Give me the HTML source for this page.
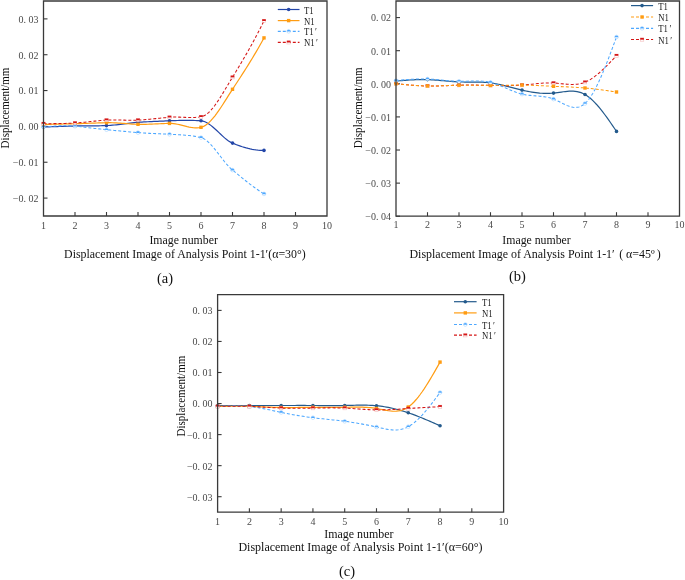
<!DOCTYPE html>
<html><head><meta charset="utf-8"><style>
html,body{margin:0;padding:0;background:#fff;}
svg{display:block;}
text{font-family:"Liberation Serif",serif;}
</style></head><body>
<svg style="will-change:transform" width="685" height="580" viewBox="0 0 685 580">
<rect width="685" height="580" fill="#fff"/>
<line x1="75.00" y1="216" x2="75.00" y2="212" stroke="#3a3a3a" stroke-width="1.1"/>
<line x1="106.50" y1="216" x2="106.50" y2="212" stroke="#3a3a3a" stroke-width="1.1"/>
<line x1="138.00" y1="216" x2="138.00" y2="212" stroke="#3a3a3a" stroke-width="1.1"/>
<line x1="169.50" y1="216" x2="169.50" y2="212" stroke="#3a3a3a" stroke-width="1.1"/>
<line x1="201.00" y1="216" x2="201.00" y2="212" stroke="#3a3a3a" stroke-width="1.1"/>
<line x1="232.50" y1="216" x2="232.50" y2="212" stroke="#3a3a3a" stroke-width="1.1"/>
<line x1="264.00" y1="216" x2="264.00" y2="212" stroke="#3a3a3a" stroke-width="1.1"/>
<line x1="295.50" y1="216" x2="295.50" y2="212" stroke="#3a3a3a" stroke-width="1.1"/>
<line x1="43.5" y1="198.08" x2="47.5" y2="198.08" stroke="#3a3a3a" stroke-width="1.1"/>
<line x1="43.5" y1="162.24" x2="47.5" y2="162.24" stroke="#3a3a3a" stroke-width="1.1"/>
<line x1="43.5" y1="126.40" x2="47.5" y2="126.40" stroke="#3a3a3a" stroke-width="1.1"/>
<line x1="43.5" y1="90.56" x2="47.5" y2="90.56" stroke="#3a3a3a" stroke-width="1.1"/>
<line x1="43.5" y1="54.72" x2="47.5" y2="54.72" stroke="#3a3a3a" stroke-width="1.1"/>
<line x1="43.5" y1="18.88" x2="47.5" y2="18.88" stroke="#3a3a3a" stroke-width="1.1"/>
<path d="M43.50,127.10 L45.47,127.01 L47.44,126.93 L49.41,126.85 L51.38,126.77 L53.34,126.70 L55.31,126.62 L57.28,126.56 L59.25,126.49 L61.22,126.42 L63.19,126.36 L65.16,126.30 L67.12,126.24 L69.09,126.18 L71.06,126.12 L73.03,126.06 L75.00,126.00 L76.97,125.95 L78.94,125.91 L80.91,125.88 L82.88,125.86 L84.84,125.85 L86.81,125.84 L88.78,125.83 L90.75,125.83 L92.72,125.83 L94.69,125.82 L96.66,125.81 L98.62,125.79 L100.59,125.76 L102.56,125.72 L104.53,125.67 L106.50,125.60 L108.47,125.50 L110.44,125.37 L112.41,125.21 L114.38,125.01 L116.34,124.80 L118.31,124.56 L120.28,124.32 L122.25,124.06 L124.22,123.80 L126.19,123.55 L128.16,123.30 L130.12,123.06 L132.09,122.83 L134.06,122.63 L136.03,122.45 L138.00,122.30 L139.97,122.17 L141.94,122.05 L143.91,121.94 L145.88,121.83 L147.84,121.73 L149.81,121.64 L151.78,121.55 L153.75,121.46 L155.72,121.37 L157.69,121.29 L159.66,121.21 L161.62,121.13 L163.59,121.05 L165.56,120.97 L167.53,120.89 L169.50,120.80 L171.47,120.72 L173.44,120.64 L175.41,120.57 L177.38,120.51 L179.34,120.46 L181.31,120.42 L183.28,120.39 L185.25,120.37 L187.22,120.37 L189.19,120.38 L191.16,120.41 L193.12,120.45 L195.09,120.51 L197.06,120.59 L199.03,120.68 L201.00,120.80 L202.97,121.11 L204.94,121.77 L206.91,122.73 L208.88,123.94 L210.84,125.38 L212.81,126.98 L214.78,128.72 L216.75,130.54 L218.72,132.40 L220.69,134.27 L222.66,136.09 L224.62,137.84 L226.59,139.45 L228.56,140.89 L230.53,142.12 L232.50,143.10 L234.47,143.92 L236.44,144.69 L238.41,145.43 L240.38,146.12 L242.34,146.78 L244.31,147.38 L246.28,147.94 L248.25,148.44 L250.22,148.89 L252.19,149.29 L254.16,149.63 L256.12,149.91 L258.09,150.13 L260.06,150.29 L262.03,150.38 L264.00,150.40" fill="none" stroke="#2346a8" stroke-width="1.2"/>
<path d="M43.50,124.40 L45.47,124.36 L47.44,124.33 L49.41,124.29 L51.38,124.25 L53.34,124.21 L55.31,124.16 L57.28,124.12 L59.25,124.07 L61.22,124.03 L63.19,123.98 L65.16,123.93 L67.12,123.89 L69.09,123.84 L71.06,123.79 L73.03,123.75 L75.00,123.70 L76.97,123.65 L78.94,123.60 L80.91,123.54 L82.88,123.47 L84.84,123.41 L86.81,123.34 L88.78,123.27 L90.75,123.20 L92.72,123.13 L94.69,123.06 L96.66,122.99 L98.62,122.92 L100.59,122.86 L102.56,122.80 L104.53,122.75 L106.50,122.70 L108.47,122.68 L110.44,122.69 L112.41,122.74 L114.38,122.81 L116.34,122.92 L118.31,123.04 L120.28,123.17 L122.25,123.32 L124.22,123.47 L126.19,123.62 L128.16,123.77 L130.12,123.91 L132.09,124.04 L134.06,124.15 L136.03,124.24 L138.00,124.30 L139.97,124.33 L141.94,124.34 L143.91,124.32 L145.88,124.29 L147.84,124.24 L149.81,124.18 L151.78,124.10 L153.75,124.02 L155.72,123.93 L157.69,123.84 L159.66,123.75 L161.62,123.66 L163.59,123.58 L165.56,123.51 L167.53,123.45 L169.50,123.40 L171.47,123.44 L173.44,123.61 L175.41,123.89 L177.38,124.26 L179.34,124.69 L181.31,125.17 L183.28,125.67 L185.25,126.17 L187.22,126.64 L189.19,127.06 L191.16,127.41 L193.12,127.67 L195.09,127.81 L197.06,127.81 L199.03,127.65 L201.00,127.30 L202.97,126.66 L204.94,125.64 L206.91,124.28 L208.88,122.61 L210.84,120.66 L212.81,118.46 L214.78,116.04 L216.75,113.43 L218.72,110.65 L220.69,107.75 L222.66,104.75 L224.62,101.67 L226.59,98.56 L228.56,95.44 L230.53,92.35 L232.50,89.30 L234.47,86.29 L236.44,83.28 L238.41,80.26 L240.38,77.22 L242.34,74.17 L244.31,71.09 L246.28,67.98 L248.25,64.84 L250.22,61.66 L252.19,58.44 L254.16,55.17 L256.12,51.84 L258.09,48.46 L260.06,45.01 L262.03,41.49 L264.00,37.90" fill="none" stroke="#ff9c12" stroke-width="1.2"/>
<path d="M43.50,127.00 L45.47,126.82 L47.44,126.64 L49.41,126.48 L51.38,126.32 L53.34,126.18 L55.31,126.05 L57.28,125.95 L59.25,125.86 L61.22,125.80 L63.19,125.76 L65.16,125.75 L67.12,125.77 L69.09,125.82 L71.06,125.91 L73.03,126.03 L75.00,126.20 L76.97,126.39 L78.94,126.59 L80.91,126.80 L82.88,127.02 L84.84,127.25 L86.81,127.48 L88.78,127.71 L90.75,127.94 L92.72,128.18 L94.69,128.41 L96.66,128.64 L98.62,128.87 L100.59,129.09 L102.56,129.30 L104.53,129.51 L106.50,129.70 L108.47,129.89 L110.44,130.08 L112.41,130.27 L114.38,130.46 L116.34,130.65 L118.31,130.84 L120.28,131.02 L122.25,131.21 L124.22,131.39 L126.19,131.57 L128.16,131.75 L130.12,131.93 L132.09,132.10 L134.06,132.27 L136.03,132.44 L138.00,132.60 L139.97,132.75 L141.94,132.90 L143.91,133.02 L145.88,133.14 L147.84,133.26 L149.81,133.36 L151.78,133.46 L153.75,133.55 L155.72,133.64 L157.69,133.73 L159.66,133.82 L161.62,133.91 L163.59,134.00 L165.56,134.09 L167.53,134.19 L169.50,134.30 L171.47,134.41 L173.44,134.50 L175.41,134.60 L177.38,134.70 L179.34,134.80 L181.31,134.91 L183.28,135.04 L185.25,135.19 L187.22,135.36 L189.19,135.56 L191.16,135.80 L193.12,136.07 L195.09,136.38 L197.06,136.73 L199.03,137.14 L201.00,137.60 L202.97,138.30 L204.94,139.39 L206.91,140.83 L208.88,142.57 L210.84,144.56 L212.81,146.76 L214.78,149.13 L216.75,151.60 L218.72,154.15 L220.69,156.73 L222.66,159.28 L224.62,161.76 L226.59,164.13 L228.56,166.34 L230.53,168.35 L232.50,170.10 L234.47,171.71 L236.44,173.33 L238.41,174.93 L240.38,176.53 L242.34,178.12 L244.31,179.70 L246.28,181.26 L248.25,182.79 L250.22,184.30 L252.19,185.79 L254.16,187.24 L256.12,188.66 L258.09,190.03 L260.06,191.37 L262.03,192.66 L264.00,193.90" fill="none" stroke="#4ea8ff" stroke-width="1.05" stroke-dasharray="3,2"/>
<path d="M43.50,123.60 L45.47,123.63 L47.44,123.65 L49.41,123.66 L51.38,123.66 L53.34,123.65 L55.31,123.63 L57.28,123.61 L59.25,123.57 L61.22,123.53 L63.19,123.48 L65.16,123.41 L67.12,123.35 L69.09,123.27 L71.06,123.19 L73.03,123.10 L75.00,123.00 L76.97,122.88 L78.94,122.74 L80.91,122.58 L82.88,122.39 L84.84,122.20 L86.81,121.99 L88.78,121.77 L90.75,121.55 L92.72,121.33 L94.69,121.11 L96.66,120.90 L98.62,120.70 L100.59,120.52 L102.56,120.35 L104.53,120.21 L106.50,120.10 L108.47,120.02 L110.44,119.97 L112.41,119.95 L114.38,119.95 L116.34,119.97 L118.31,120.00 L120.28,120.05 L122.25,120.10 L124.22,120.14 L126.19,120.19 L128.16,120.22 L130.12,120.24 L132.09,120.25 L134.06,120.23 L136.03,120.18 L138.00,120.10 L139.97,119.99 L141.94,119.87 L143.91,119.72 L145.88,119.57 L147.84,119.40 L149.81,119.22 L151.78,119.03 L153.75,118.84 L155.72,118.64 L157.69,118.44 L159.66,118.24 L161.62,118.04 L163.59,117.84 L165.56,117.65 L167.53,117.47 L169.50,117.30 L171.47,117.17 L173.44,117.10 L175.41,117.08 L177.38,117.09 L179.34,117.14 L181.31,117.21 L183.28,117.29 L185.25,117.37 L187.22,117.44 L189.19,117.49 L191.16,117.51 L193.12,117.49 L195.09,117.42 L197.06,117.28 L199.03,117.08 L201.00,116.80 L202.97,116.26 L204.94,115.30 L206.91,113.97 L208.88,112.29 L210.84,110.29 L212.81,108.02 L214.78,105.50 L216.75,102.77 L218.72,99.85 L220.69,96.79 L222.66,93.62 L224.62,90.36 L226.59,87.06 L228.56,83.74 L230.53,80.45 L232.50,77.20 L234.47,73.98 L236.44,70.75 L238.41,67.49 L240.38,64.20 L242.34,60.88 L244.31,57.53 L246.28,54.13 L248.25,50.68 L250.22,47.18 L252.19,43.62 L254.16,40.00 L256.12,36.32 L258.09,32.56 L260.06,28.72 L262.03,24.80 L264.00,20.80" fill="none" stroke="#d51616" stroke-width="1.05" stroke-dasharray="3,2"/>
<circle cx="43.50" cy="127.10" r="1.8" fill="#2346a8"/>
<circle cx="75.00" cy="126.00" r="1.8" fill="#2346a8"/>
<circle cx="106.50" cy="125.60" r="1.8" fill="#2346a8"/>
<circle cx="138.00" cy="122.30" r="1.8" fill="#2346a8"/>
<circle cx="169.50" cy="120.80" r="1.8" fill="#2346a8"/>
<circle cx="201.00" cy="120.80" r="1.8" fill="#2346a8"/>
<circle cx="232.50" cy="143.10" r="1.8" fill="#2346a8"/>
<circle cx="264.00" cy="150.40" r="1.8" fill="#2346a8"/>
<rect x="41.80" y="122.70" width="3.4" height="3.4" fill="#ff9c12"/>
<rect x="73.30" y="122.00" width="3.4" height="3.4" fill="#ff9c12"/>
<rect x="104.80" y="121.00" width="3.4" height="3.4" fill="#ff9c12"/>
<rect x="136.30" y="122.60" width="3.4" height="3.4" fill="#ff9c12"/>
<rect x="167.80" y="121.70" width="3.4" height="3.4" fill="#ff9c12"/>
<rect x="199.30" y="125.60" width="3.4" height="3.4" fill="#ff9c12"/>
<rect x="230.80" y="87.60" width="3.4" height="3.4" fill="#ff9c12"/>
<rect x="262.30" y="36.20" width="3.4" height="3.4" fill="#ff9c12"/>
<circle cx="43.50" cy="127.00" r="1.85" fill="#fff" stroke="#4ea8ff" stroke-opacity="0.4" stroke-width="0.7"/><path d="M41.65,127.30 A1.85,1.85 0 1 1 45.35,127.30 Z" fill="#4ea8ff"/>
<circle cx="75.00" cy="126.20" r="1.85" fill="#fff" stroke="#4ea8ff" stroke-opacity="0.4" stroke-width="0.7"/><path d="M73.15,126.50 A1.85,1.85 0 1 1 76.85,126.50 Z" fill="#4ea8ff"/>
<circle cx="106.50" cy="129.70" r="1.85" fill="#fff" stroke="#4ea8ff" stroke-opacity="0.4" stroke-width="0.7"/><path d="M104.65,130.00 A1.85,1.85 0 1 1 108.35,130.00 Z" fill="#4ea8ff"/>
<circle cx="138.00" cy="132.60" r="1.85" fill="#fff" stroke="#4ea8ff" stroke-opacity="0.4" stroke-width="0.7"/><path d="M136.15,132.90 A1.85,1.85 0 1 1 139.85,132.90 Z" fill="#4ea8ff"/>
<circle cx="169.50" cy="134.30" r="1.85" fill="#fff" stroke="#4ea8ff" stroke-opacity="0.4" stroke-width="0.7"/><path d="M167.65,134.60 A1.85,1.85 0 1 1 171.35,134.60 Z" fill="#4ea8ff"/>
<circle cx="201.00" cy="137.60" r="1.85" fill="#fff" stroke="#4ea8ff" stroke-opacity="0.4" stroke-width="0.7"/><path d="M199.15,137.90 A1.85,1.85 0 1 1 202.85,137.90 Z" fill="#4ea8ff"/>
<circle cx="232.50" cy="170.10" r="1.85" fill="#fff" stroke="#4ea8ff" stroke-opacity="0.4" stroke-width="0.7"/><path d="M230.65,170.40 A1.85,1.85 0 1 1 234.35,170.40 Z" fill="#4ea8ff"/>
<circle cx="264.00" cy="193.90" r="1.85" fill="#fff" stroke="#4ea8ff" stroke-opacity="0.4" stroke-width="0.7"/><path d="M262.15,194.20 A1.85,1.85 0 1 1 265.85,194.20 Z" fill="#4ea8ff"/>
<rect x="41.80" y="122.10" width="3.4" height="3.2" fill="#fff" stroke="#d51616" stroke-opacity="0.3" stroke-width="0.6"/><rect x="41.70" y="122.00" width="3.6" height="1.8" fill="#d51616"/>
<rect x="73.30" y="121.50" width="3.4" height="3.2" fill="#fff" stroke="#d51616" stroke-opacity="0.3" stroke-width="0.6"/><rect x="73.20" y="121.40" width="3.6" height="1.8" fill="#d51616"/>
<rect x="104.80" y="118.60" width="3.4" height="3.2" fill="#fff" stroke="#d51616" stroke-opacity="0.3" stroke-width="0.6"/><rect x="104.70" y="118.50" width="3.6" height="1.8" fill="#d51616"/>
<rect x="136.30" y="118.60" width="3.4" height="3.2" fill="#fff" stroke="#d51616" stroke-opacity="0.3" stroke-width="0.6"/><rect x="136.20" y="118.50" width="3.6" height="1.8" fill="#d51616"/>
<rect x="167.80" y="115.80" width="3.4" height="3.2" fill="#fff" stroke="#d51616" stroke-opacity="0.3" stroke-width="0.6"/><rect x="167.70" y="115.70" width="3.6" height="1.8" fill="#d51616"/>
<rect x="199.30" y="115.30" width="3.4" height="3.2" fill="#fff" stroke="#d51616" stroke-opacity="0.3" stroke-width="0.6"/><rect x="199.20" y="115.20" width="3.6" height="1.8" fill="#d51616"/>
<rect x="230.80" y="75.70" width="3.4" height="3.2" fill="#fff" stroke="#d51616" stroke-opacity="0.3" stroke-width="0.6"/><rect x="230.70" y="75.60" width="3.6" height="1.8" fill="#d51616"/>
<rect x="262.30" y="19.30" width="3.4" height="3.2" fill="#fff" stroke="#d51616" stroke-opacity="0.3" stroke-width="0.6"/><rect x="262.20" y="19.20" width="3.6" height="1.8" fill="#d51616"/>
<path d="M43.5,1 L327,1 L327,216 L43.5,216 Z" fill="none" stroke="#3a3a3a" stroke-width="1.3"/>
<text x="43.50" y="228.7" text-anchor="middle" font-size="10" fill="#4a4a4a">1</text>
<text x="75.00" y="228.7" text-anchor="middle" font-size="10" fill="#4a4a4a">2</text>
<text x="106.50" y="228.7" text-anchor="middle" font-size="10" fill="#4a4a4a">3</text>
<text x="138.00" y="228.7" text-anchor="middle" font-size="10" fill="#4a4a4a">4</text>
<text x="169.50" y="228.7" text-anchor="middle" font-size="10" fill="#4a4a4a">5</text>
<text x="201.00" y="228.7" text-anchor="middle" font-size="10" fill="#4a4a4a">6</text>
<text x="232.50" y="228.7" text-anchor="middle" font-size="10" fill="#4a4a4a">7</text>
<text x="264.00" y="228.7" text-anchor="middle" font-size="10" fill="#4a4a4a">8</text>
<text x="295.50" y="228.7" text-anchor="middle" font-size="10" fill="#4a4a4a">9</text>
<text x="327.00" y="228.7" text-anchor="middle" font-size="10" fill="#4a4a4a">10</text>
<text x="38.5" y="201.98" text-anchor="end" font-size="10" fill="#4a4a4a">−0. 02</text>
<text x="38.5" y="166.14" text-anchor="end" font-size="10" fill="#4a4a4a">−0. 01</text>
<text x="38.5" y="130.30" text-anchor="end" font-size="10" fill="#4a4a4a">0. 00</text>
<text x="38.5" y="94.46" text-anchor="end" font-size="10" fill="#4a4a4a">0. 01</text>
<text x="38.5" y="58.62" text-anchor="end" font-size="10" fill="#4a4a4a">0. 02</text>
<text x="38.5" y="22.78" text-anchor="end" font-size="10" fill="#4a4a4a">0. 03</text>
<text transform="translate(8.6,108) rotate(-90) scale(0.935,1)" text-anchor="middle" font-size="11.8" fill="#111">Displacement/mm</text>
<line x1="277.8" y1="9.5" x2="299.5" y2="9.5" stroke="#2346a8" stroke-width="1.2"/>
<circle cx="288.65" cy="9.50" r="1.8" fill="#2346a8"/>
<text transform="translate(304,13.50) scale(0.88,1)" font-size="9.9" fill="#222">T1</text>
<line x1="277.8" y1="20.6" x2="299.5" y2="20.6" stroke="#ff9c12" stroke-width="1.2"/>
<rect x="286.95" y="18.90" width="3.4" height="3.4" fill="#ff9c12"/>
<text transform="translate(304,24.60) scale(0.88,1)" font-size="9.9" fill="#222">N1</text>
<line x1="277.8" y1="31.3" x2="299.5" y2="31.3" stroke="#4ea8ff" stroke-width="1.2" stroke-dasharray="3,2"/>
<circle cx="288.65" cy="31.30" r="1.85" fill="#fff" stroke="#4ea8ff" stroke-opacity="0.4" stroke-width="0.7"/><path d="M286.80,31.60 A1.85,1.85 0 1 1 290.50,31.60 Z" fill="#4ea8ff"/>
<text transform="translate(304,35.30) scale(0.88,1)" font-size="9.9" fill="#222">T1<tspan dx="1.6">′</tspan></text>
<line x1="277.8" y1="42.3" x2="299.5" y2="42.3" stroke="#d51616" stroke-width="1.2" stroke-dasharray="3,2"/>
<rect x="286.95" y="40.80" width="3.4" height="3.2" fill="#fff" stroke="#d51616" stroke-opacity="0.3" stroke-width="0.6"/><rect x="286.85" y="40.70" width="3.6" height="1.8" fill="#d51616"/>
<text transform="translate(304,46.30) scale(0.88,1)" font-size="9.9" fill="#222">N1<tspan dx="1.6">′</tspan></text>
<text x="149.4" y="243.6" font-size="11.8" fill="#111">Image number</text>
<text x="64.1" y="258" font-size="11.88" fill="#111">Displacement Image of Analysis Point 1-1′(α=30°)</text>
<text x="157" y="282.8" font-size="14.5" fill="#111">(a)</text>
<line x1="427.50" y1="216.2" x2="427.50" y2="212.2" stroke="#3a3a3a" stroke-width="1.1"/>
<line x1="459.00" y1="216.2" x2="459.00" y2="212.2" stroke="#3a3a3a" stroke-width="1.1"/>
<line x1="490.50" y1="216.2" x2="490.50" y2="212.2" stroke="#3a3a3a" stroke-width="1.1"/>
<line x1="522.00" y1="216.2" x2="522.00" y2="212.2" stroke="#3a3a3a" stroke-width="1.1"/>
<line x1="553.50" y1="216.2" x2="553.50" y2="212.2" stroke="#3a3a3a" stroke-width="1.1"/>
<line x1="585.00" y1="216.2" x2="585.00" y2="212.2" stroke="#3a3a3a" stroke-width="1.1"/>
<line x1="616.50" y1="216.2" x2="616.50" y2="212.2" stroke="#3a3a3a" stroke-width="1.1"/>
<line x1="648.00" y1="216.2" x2="648.00" y2="212.2" stroke="#3a3a3a" stroke-width="1.1"/>
<line x1="396" y1="216.24" x2="400" y2="216.24" stroke="#3a3a3a" stroke-width="1.1"/>
<line x1="396" y1="183.13" x2="400" y2="183.13" stroke="#3a3a3a" stroke-width="1.1"/>
<line x1="396" y1="150.02" x2="400" y2="150.02" stroke="#3a3a3a" stroke-width="1.1"/>
<line x1="396" y1="116.91" x2="400" y2="116.91" stroke="#3a3a3a" stroke-width="1.1"/>
<line x1="396" y1="83.80" x2="400" y2="83.80" stroke="#3a3a3a" stroke-width="1.1"/>
<line x1="396" y1="50.69" x2="400" y2="50.69" stroke="#3a3a3a" stroke-width="1.1"/>
<line x1="396" y1="17.58" x2="400" y2="17.58" stroke="#3a3a3a" stroke-width="1.1"/>
<path d="M396.00,81.10 L397.97,80.93 L399.94,80.76 L401.91,80.59 L403.88,80.43 L405.84,80.28 L407.81,80.14 L409.78,80.01 L411.75,79.89 L413.72,79.78 L415.69,79.69 L417.66,79.62 L419.62,79.57 L421.59,79.54 L423.56,79.53 L425.53,79.55 L427.50,79.60 L429.47,79.67 L431.44,79.78 L433.41,79.90 L435.38,80.04 L437.34,80.19 L439.31,80.36 L441.28,80.54 L443.25,80.72 L445.22,80.90 L447.19,81.08 L449.16,81.25 L451.12,81.41 L453.09,81.56 L455.06,81.70 L457.03,81.81 L459.00,81.90 L460.97,81.96 L462.94,82.01 L464.91,82.03 L466.88,82.04 L468.84,82.05 L470.81,82.05 L472.78,82.05 L474.75,82.06 L476.72,82.07 L478.69,82.11 L480.66,82.16 L482.62,82.24 L484.59,82.35 L486.56,82.49 L488.53,82.67 L490.50,82.90 L492.47,83.17 L494.44,83.49 L496.41,83.85 L498.38,84.24 L500.34,84.66 L502.31,85.11 L504.28,85.58 L506.25,86.07 L508.22,86.58 L510.19,87.09 L512.16,87.60 L514.12,88.12 L516.09,88.63 L518.06,89.14 L520.03,89.63 L522.00,90.10 L523.97,90.55 L525.94,90.98 L527.91,91.38 L529.88,91.75 L531.84,92.09 L533.81,92.40 L535.78,92.67 L537.75,92.90 L539.72,93.10 L541.69,93.24 L543.66,93.35 L545.62,93.40 L547.59,93.41 L549.56,93.36 L551.53,93.26 L553.50,93.10 L555.47,92.88 L557.44,92.63 L559.41,92.34 L561.38,92.06 L563.34,91.78 L565.31,91.53 L567.28,91.33 L569.25,91.19 L571.22,91.13 L573.19,91.17 L575.16,91.33 L577.12,91.63 L579.09,92.07 L581.06,92.69 L583.03,93.49 L585.00,94.50 L586.97,95.73 L588.94,97.16 L590.91,98.79 L592.88,100.60 L594.84,102.58 L596.81,104.72 L598.78,106.99 L600.75,109.38 L602.72,111.89 L604.69,114.50 L606.66,117.19 L608.62,119.95 L610.59,122.76 L612.56,125.62 L614.53,128.50 L616.50,131.40" fill="none" stroke="#235a8c" stroke-width="1.2"/>
<path d="M396.00,83.70 L397.97,83.90 L399.94,84.10 L401.91,84.29 L403.88,84.48 L405.84,84.67 L407.81,84.85 L409.78,85.02 L411.75,85.18 L413.72,85.34 L415.69,85.48 L417.66,85.60 L419.62,85.72 L421.59,85.82 L423.56,85.90 L425.53,85.96 L427.50,86.00 L429.47,86.02 L431.44,86.03 L433.41,86.01 L435.38,85.98 L437.34,85.94 L439.31,85.89 L441.28,85.83 L443.25,85.76 L445.22,85.69 L447.19,85.61 L449.16,85.53 L451.12,85.46 L453.09,85.38 L455.06,85.31 L457.03,85.25 L459.00,85.20 L460.97,85.16 L462.94,85.13 L464.91,85.10 L466.88,85.09 L468.84,85.09 L470.81,85.09 L472.78,85.10 L474.75,85.12 L476.72,85.14 L478.69,85.17 L480.66,85.20 L482.62,85.23 L484.59,85.27 L486.56,85.31 L488.53,85.36 L490.50,85.40 L492.47,85.44 L494.44,85.49 L496.41,85.53 L498.38,85.56 L500.34,85.59 L502.31,85.62 L504.28,85.63 L506.25,85.63 L508.22,85.62 L510.19,85.60 L512.16,85.57 L514.12,85.51 L516.09,85.44 L518.06,85.35 L520.03,85.24 L522.00,85.10 L523.97,84.94 L525.94,84.76 L527.91,84.57 L529.88,84.37 L531.84,84.16 L533.81,83.95 L535.78,83.75 L537.75,83.56 L539.72,83.39 L541.69,83.23 L543.66,83.10 L545.62,83.00 L547.59,82.93 L549.56,82.91 L551.53,82.93 L553.50,83.00 L555.47,83.12 L557.44,83.29 L559.41,83.48 L561.38,83.68 L563.34,83.88 L565.31,84.07 L567.28,84.24 L569.25,84.36 L571.22,84.43 L573.19,84.42 L575.16,84.34 L577.12,84.16 L579.09,83.87 L581.06,83.45 L583.03,82.90 L585.00,82.20 L586.97,81.34 L588.94,80.32 L590.91,79.16 L592.88,77.86 L594.84,76.44 L596.81,74.90 L598.78,73.27 L600.75,71.54 L602.72,69.73 L604.69,67.84 L606.66,65.90 L608.62,63.90 L610.59,61.86 L612.56,59.79 L614.53,57.70 L616.50,55.60" fill="none" stroke="#d51616" stroke-width="1.05" stroke-dasharray="3,2"/>
<path d="M396.00,83.70 L397.97,83.90 L399.94,84.10 L401.91,84.30 L403.88,84.49 L405.84,84.68 L407.81,84.86 L409.78,85.03 L411.75,85.19 L413.72,85.35 L415.69,85.49 L417.66,85.61 L419.62,85.73 L421.59,85.82 L423.56,85.90 L425.53,85.96 L427.50,86.00 L429.47,86.02 L431.44,86.02 L433.41,86.00 L435.38,85.97 L437.34,85.92 L439.31,85.86 L441.28,85.80 L443.25,85.73 L445.22,85.65 L447.19,85.58 L449.16,85.50 L451.12,85.43 L453.09,85.36 L455.06,85.29 L457.03,85.24 L459.00,85.20 L460.97,85.17 L462.94,85.16 L464.91,85.15 L466.88,85.15 L468.84,85.16 L470.81,85.18 L472.78,85.21 L474.75,85.23 L476.72,85.26 L478.69,85.29 L480.66,85.32 L482.62,85.34 L484.59,85.37 L486.56,85.39 L488.53,85.40 L490.50,85.40 L492.47,85.39 L494.44,85.38 L496.41,85.36 L498.38,85.34 L500.34,85.31 L502.31,85.27 L504.28,85.24 L506.25,85.21 L508.22,85.17 L510.19,85.15 L512.16,85.12 L514.12,85.10 L516.09,85.09 L518.06,85.08 L520.03,85.09 L522.00,85.10 L523.97,85.13 L525.94,85.16 L527.91,85.21 L529.88,85.27 L531.84,85.33 L533.81,85.40 L535.78,85.48 L537.75,85.57 L539.72,85.65 L541.69,85.74 L543.66,85.84 L545.62,85.93 L547.59,86.03 L549.56,86.12 L551.53,86.21 L553.50,86.30 L555.47,86.39 L557.44,86.47 L559.41,86.55 L561.38,86.63 L563.34,86.71 L565.31,86.80 L567.28,86.89 L569.25,86.98 L571.22,87.08 L573.19,87.18 L575.16,87.29 L577.12,87.41 L579.09,87.54 L581.06,87.68 L583.03,87.83 L585.00,88.00 L586.97,88.18 L588.94,88.37 L590.91,88.58 L592.88,88.80 L594.84,89.03 L596.81,89.27 L598.78,89.51 L600.75,89.77 L602.72,90.03 L604.69,90.30 L606.66,90.58 L608.62,90.86 L610.59,91.14 L612.56,91.42 L614.53,91.71 L616.50,92.00" fill="none" stroke="#ff9c12" stroke-width="1.05" stroke-dasharray="3,2"/>
<path d="M396.00,80.60 L397.97,80.41 L399.94,80.23 L401.91,80.05 L403.88,79.87 L405.84,79.71 L407.81,79.55 L409.78,79.41 L411.75,79.28 L413.72,79.16 L415.69,79.07 L417.66,78.99 L419.62,78.94 L421.59,78.92 L423.56,78.91 L425.53,78.94 L427.50,79.00 L429.47,79.09 L431.44,79.21 L433.41,79.35 L435.38,79.51 L437.34,79.69 L439.31,79.87 L441.28,80.06 L443.25,80.25 L445.22,80.44 L447.19,80.63 L449.16,80.79 L451.12,80.95 L453.09,81.08 L455.06,81.18 L457.03,81.26 L459.00,81.30 L460.97,81.30 L462.94,81.28 L464.91,81.23 L466.88,81.16 L468.84,81.09 L470.81,81.03 L472.78,80.98 L474.75,80.94 L476.72,80.94 L478.69,80.97 L480.66,81.04 L482.62,81.17 L484.59,81.37 L486.56,81.63 L488.53,81.97 L490.50,82.40 L492.47,82.92 L494.44,83.53 L496.41,84.21 L498.38,84.95 L500.34,85.73 L502.31,86.55 L504.28,87.40 L506.25,88.26 L508.22,89.11 L510.19,89.96 L512.16,90.78 L514.12,91.57 L516.09,92.30 L518.06,92.98 L520.03,93.58 L522.00,94.10 L523.97,94.53 L525.94,94.87 L527.91,95.15 L529.88,95.37 L531.84,95.56 L533.81,95.72 L535.78,95.87 L537.75,96.02 L539.72,96.19 L541.69,96.39 L543.66,96.64 L545.62,96.96 L547.59,97.34 L549.56,97.82 L551.53,98.40 L553.50,99.10 L555.47,99.92 L557.44,100.84 L559.41,101.82 L561.38,102.83 L563.34,103.82 L565.31,104.76 L567.28,105.62 L569.25,106.35 L571.22,106.93 L573.19,107.31 L575.16,107.47 L577.12,107.35 L579.09,106.94 L581.06,106.18 L583.03,105.05 L585.00,103.50 L586.97,101.52 L588.94,99.11 L590.91,96.32 L592.88,93.16 L594.84,89.66 L596.81,85.85 L598.78,81.77 L600.75,77.43 L602.72,72.87 L604.69,68.11 L606.66,63.18 L608.62,58.11 L610.59,52.93 L612.56,47.67 L614.53,42.35 L616.50,37.00" fill="none" stroke="#4ea8ff" stroke-width="1.05" stroke-dasharray="3,2"/>
<circle cx="396.00" cy="81.10" r="1.8" fill="#235a8c"/>
<circle cx="427.50" cy="79.60" r="1.8" fill="#235a8c"/>
<circle cx="459.00" cy="81.90" r="1.8" fill="#235a8c"/>
<circle cx="490.50" cy="82.90" r="1.8" fill="#235a8c"/>
<circle cx="522.00" cy="90.10" r="1.8" fill="#235a8c"/>
<circle cx="553.50" cy="93.10" r="1.8" fill="#235a8c"/>
<circle cx="585.00" cy="94.50" r="1.8" fill="#235a8c"/>
<circle cx="616.50" cy="131.40" r="1.8" fill="#235a8c"/>
<rect x="394.30" y="82.20" width="3.4" height="3.2" fill="#fff" stroke="#d51616" stroke-opacity="0.3" stroke-width="0.6"/><rect x="394.20" y="82.10" width="3.6" height="1.8" fill="#d51616"/>
<rect x="425.80" y="84.50" width="3.4" height="3.2" fill="#fff" stroke="#d51616" stroke-opacity="0.3" stroke-width="0.6"/><rect x="425.70" y="84.40" width="3.6" height="1.8" fill="#d51616"/>
<rect x="457.30" y="83.70" width="3.4" height="3.2" fill="#fff" stroke="#d51616" stroke-opacity="0.3" stroke-width="0.6"/><rect x="457.20" y="83.60" width="3.6" height="1.8" fill="#d51616"/>
<rect x="488.80" y="83.90" width="3.4" height="3.2" fill="#fff" stroke="#d51616" stroke-opacity="0.3" stroke-width="0.6"/><rect x="488.70" y="83.80" width="3.6" height="1.8" fill="#d51616"/>
<rect x="520.30" y="83.60" width="3.4" height="3.2" fill="#fff" stroke="#d51616" stroke-opacity="0.3" stroke-width="0.6"/><rect x="520.20" y="83.50" width="3.6" height="1.8" fill="#d51616"/>
<rect x="551.80" y="81.50" width="3.4" height="3.2" fill="#fff" stroke="#d51616" stroke-opacity="0.3" stroke-width="0.6"/><rect x="551.70" y="81.40" width="3.6" height="1.8" fill="#d51616"/>
<rect x="583.30" y="80.70" width="3.4" height="3.2" fill="#fff" stroke="#d51616" stroke-opacity="0.3" stroke-width="0.6"/><rect x="583.20" y="80.60" width="3.6" height="1.8" fill="#d51616"/>
<rect x="614.80" y="54.10" width="3.4" height="3.2" fill="#fff" stroke="#d51616" stroke-opacity="0.3" stroke-width="0.6"/><rect x="614.70" y="54.00" width="3.6" height="1.8" fill="#d51616"/>
<rect x="394.30" y="82.00" width="3.4" height="3.4" fill="#ff9c12"/>
<rect x="425.80" y="84.30" width="3.4" height="3.4" fill="#ff9c12"/>
<rect x="457.30" y="83.50" width="3.4" height="3.4" fill="#ff9c12"/>
<rect x="488.80" y="83.70" width="3.4" height="3.4" fill="#ff9c12"/>
<rect x="520.30" y="83.40" width="3.4" height="3.4" fill="#ff9c12"/>
<rect x="551.80" y="84.60" width="3.4" height="3.4" fill="#ff9c12"/>
<rect x="583.30" y="86.30" width="3.4" height="3.4" fill="#ff9c12"/>
<rect x="614.80" y="90.30" width="3.4" height="3.4" fill="#ff9c12"/>
<circle cx="396.00" cy="80.60" r="1.85" fill="#fff" stroke="#4ea8ff" stroke-opacity="0.4" stroke-width="0.7"/><path d="M394.15,80.90 A1.85,1.85 0 1 1 397.85,80.90 Z" fill="#4ea8ff"/>
<circle cx="427.50" cy="79.00" r="1.85" fill="#fff" stroke="#4ea8ff" stroke-opacity="0.4" stroke-width="0.7"/><path d="M425.65,79.30 A1.85,1.85 0 1 1 429.35,79.30 Z" fill="#4ea8ff"/>
<circle cx="459.00" cy="81.30" r="1.85" fill="#fff" stroke="#4ea8ff" stroke-opacity="0.4" stroke-width="0.7"/><path d="M457.15,81.60 A1.85,1.85 0 1 1 460.85,81.60 Z" fill="#4ea8ff"/>
<circle cx="490.50" cy="82.40" r="1.85" fill="#fff" stroke="#4ea8ff" stroke-opacity="0.4" stroke-width="0.7"/><path d="M488.65,82.70 A1.85,1.85 0 1 1 492.35,82.70 Z" fill="#4ea8ff"/>
<circle cx="522.00" cy="94.10" r="1.85" fill="#fff" stroke="#4ea8ff" stroke-opacity="0.4" stroke-width="0.7"/><path d="M520.15,94.40 A1.85,1.85 0 1 1 523.85,94.40 Z" fill="#4ea8ff"/>
<circle cx="553.50" cy="99.10" r="1.85" fill="#fff" stroke="#4ea8ff" stroke-opacity="0.4" stroke-width="0.7"/><path d="M551.65,99.40 A1.85,1.85 0 1 1 555.35,99.40 Z" fill="#4ea8ff"/>
<circle cx="585.00" cy="103.50" r="1.85" fill="#fff" stroke="#4ea8ff" stroke-opacity="0.4" stroke-width="0.7"/><path d="M583.15,103.80 A1.85,1.85 0 1 1 586.85,103.80 Z" fill="#4ea8ff"/>
<circle cx="616.50" cy="37.00" r="1.85" fill="#fff" stroke="#4ea8ff" stroke-opacity="0.4" stroke-width="0.7"/><path d="M614.65,37.30 A1.85,1.85 0 1 1 618.35,37.30 Z" fill="#4ea8ff"/>
<path d="M396,1 L679.5,1 L679.5,216.2 L396,216.2 Z" fill="none" stroke="#3a3a3a" stroke-width="1.3"/>
<text x="396.00" y="228.29999999999998" text-anchor="middle" font-size="10" fill="#4a4a4a">1</text>
<text x="427.50" y="228.29999999999998" text-anchor="middle" font-size="10" fill="#4a4a4a">2</text>
<text x="459.00" y="228.29999999999998" text-anchor="middle" font-size="10" fill="#4a4a4a">3</text>
<text x="490.50" y="228.29999999999998" text-anchor="middle" font-size="10" fill="#4a4a4a">4</text>
<text x="522.00" y="228.29999999999998" text-anchor="middle" font-size="10" fill="#4a4a4a">5</text>
<text x="553.50" y="228.29999999999998" text-anchor="middle" font-size="10" fill="#4a4a4a">6</text>
<text x="585.00" y="228.29999999999998" text-anchor="middle" font-size="10" fill="#4a4a4a">7</text>
<text x="616.50" y="228.29999999999998" text-anchor="middle" font-size="10" fill="#4a4a4a">8</text>
<text x="648.00" y="228.29999999999998" text-anchor="middle" font-size="10" fill="#4a4a4a">9</text>
<text x="679.50" y="228.29999999999998" text-anchor="middle" font-size="10" fill="#4a4a4a">10</text>
<text x="391.0" y="220.14" text-anchor="end" font-size="10" fill="#4a4a4a">−0. 04</text>
<text x="391.0" y="187.03" text-anchor="end" font-size="10" fill="#4a4a4a">−0. 03</text>
<text x="391.0" y="153.92" text-anchor="end" font-size="10" fill="#4a4a4a">−0. 02</text>
<text x="391.0" y="120.81" text-anchor="end" font-size="10" fill="#4a4a4a">−0. 01</text>
<text x="391.0" y="87.70" text-anchor="end" font-size="10" fill="#4a4a4a">0. 00</text>
<text x="391.0" y="54.59" text-anchor="end" font-size="10" fill="#4a4a4a">0. 01</text>
<text x="391.0" y="21.48" text-anchor="end" font-size="10" fill="#4a4a4a">0. 02</text>
<text transform="translate(362,107.8) rotate(-90) scale(0.935,1)" text-anchor="middle" font-size="11.8" fill="#111">Displacement/mm</text>
<line x1="631" y1="5.6" x2="653.1" y2="5.6" stroke="#235a8c" stroke-width="1.2"/>
<circle cx="642.05" cy="5.60" r="1.8" fill="#235a8c"/>
<text transform="translate(658.3,9.60) scale(0.88,1)" font-size="9.9" fill="#222">T1</text>
<line x1="631" y1="17" x2="653.1" y2="17" stroke="#ff9c12" stroke-width="1.2" stroke-dasharray="3,2"/>
<rect x="640.35" y="15.30" width="3.4" height="3.4" fill="#ff9c12"/>
<text transform="translate(658.3,21.00) scale(0.88,1)" font-size="9.9" fill="#222">N1</text>
<line x1="631" y1="28.3" x2="653.1" y2="28.3" stroke="#4ea8ff" stroke-width="1.2" stroke-dasharray="3,2"/>
<circle cx="642.05" cy="28.30" r="1.85" fill="#fff" stroke="#4ea8ff" stroke-opacity="0.4" stroke-width="0.7"/><path d="M640.20,28.60 A1.85,1.85 0 1 1 643.90,28.60 Z" fill="#4ea8ff"/>
<text transform="translate(658.3,32.30) scale(0.88,1)" font-size="9.9" fill="#222">T1<tspan dx="1.6">′</tspan></text>
<line x1="631" y1="39.5" x2="653.1" y2="39.5" stroke="#d51616" stroke-width="1.2" stroke-dasharray="3,2"/>
<rect x="640.35" y="38.00" width="3.4" height="3.2" fill="#fff" stroke="#d51616" stroke-opacity="0.3" stroke-width="0.6"/><rect x="640.25" y="37.90" width="3.6" height="1.8" fill="#d51616"/>
<text transform="translate(658.3,43.50) scale(0.88,1)" font-size="9.9" fill="#222">N1<tspan dx="1.6">′</tspan></text>
<text x="502.3" y="244" font-size="11.8" fill="#111">Image number</text>
<text x="409.5" y="257.6" font-size="11.95" fill="#111">Displacement Image of Analysis Point 1-1′<tspan x="619.3">(</tspan><tspan x="626">α=45º</tspan><tspan x="656.8">)</tspan></text>
<text x="509" y="281.4" font-size="14.5" fill="#111">(b)</text>
<line x1="249.38" y1="512.2" x2="249.38" y2="508.20000000000005" stroke="#3a3a3a" stroke-width="1.1"/>
<line x1="281.16" y1="512.2" x2="281.16" y2="508.20000000000005" stroke="#3a3a3a" stroke-width="1.1"/>
<line x1="312.93" y1="512.2" x2="312.93" y2="508.20000000000005" stroke="#3a3a3a" stroke-width="1.1"/>
<line x1="344.71" y1="512.2" x2="344.71" y2="508.20000000000005" stroke="#3a3a3a" stroke-width="1.1"/>
<line x1="376.49" y1="512.2" x2="376.49" y2="508.20000000000005" stroke="#3a3a3a" stroke-width="1.1"/>
<line x1="408.27" y1="512.2" x2="408.27" y2="508.20000000000005" stroke="#3a3a3a" stroke-width="1.1"/>
<line x1="440.04" y1="512.2" x2="440.04" y2="508.20000000000005" stroke="#3a3a3a" stroke-width="1.1"/>
<line x1="471.82" y1="512.2" x2="471.82" y2="508.20000000000005" stroke="#3a3a3a" stroke-width="1.1"/>
<line x1="217.6" y1="496.70" x2="221.6" y2="496.70" stroke="#3a3a3a" stroke-width="1.1"/>
<line x1="217.6" y1="465.65" x2="221.6" y2="465.65" stroke="#3a3a3a" stroke-width="1.1"/>
<line x1="217.6" y1="434.60" x2="221.6" y2="434.60" stroke="#3a3a3a" stroke-width="1.1"/>
<line x1="217.6" y1="403.55" x2="221.6" y2="403.55" stroke="#3a3a3a" stroke-width="1.1"/>
<line x1="217.6" y1="372.50" x2="221.6" y2="372.50" stroke="#3a3a3a" stroke-width="1.1"/>
<line x1="217.6" y1="341.45" x2="221.6" y2="341.45" stroke="#3a3a3a" stroke-width="1.1"/>
<line x1="217.6" y1="310.40" x2="221.6" y2="310.40" stroke="#3a3a3a" stroke-width="1.1"/>
<path d="M217.60,405.50 L219.59,405.50 L221.57,405.50 L223.56,405.50 L225.54,405.50 L227.53,405.50 L229.52,405.50 L231.50,405.50 L233.49,405.50 L235.47,405.50 L237.46,405.50 L239.45,405.50 L241.43,405.50 L243.42,405.50 L245.41,405.50 L247.39,405.50 L249.38,405.50 L251.36,405.50 L253.35,405.50 L255.34,405.50 L257.32,405.50 L259.31,405.50 L261.29,405.51 L263.28,405.51 L265.27,405.51 L267.25,405.51 L269.24,405.51 L271.23,405.51 L273.21,405.51 L275.20,405.51 L277.18,405.50 L279.17,405.50 L281.16,405.50 L283.14,405.50 L285.13,405.49 L287.11,405.49 L289.10,405.49 L291.09,405.48 L293.07,405.48 L295.06,405.48 L297.04,405.47 L299.03,405.47 L301.02,405.47 L303.00,405.47 L304.99,405.47 L306.98,405.48 L308.96,405.48 L310.95,405.49 L312.93,405.50 L314.92,405.51 L316.91,405.52 L318.89,405.54 L320.88,405.55 L322.86,405.57 L324.85,405.58 L326.84,405.59 L328.82,405.60 L330.81,405.60 L332.79,405.61 L334.78,405.60 L336.77,405.60 L338.75,405.58 L340.74,405.56 L342.73,405.54 L344.71,405.50 L346.70,405.46 L348.68,405.41 L350.67,405.36 L352.66,405.31 L354.64,405.26 L356.63,405.21 L358.61,405.18 L360.60,405.15 L362.59,405.14 L364.57,405.15 L366.56,405.18 L368.54,405.23 L370.53,405.30 L372.52,405.40 L374.50,405.53 L376.49,405.70 L378.48,405.90 L380.46,406.14 L382.45,406.41 L384.43,406.72 L386.42,407.06 L388.41,407.43 L390.39,407.83 L392.38,408.27 L394.36,408.74 L396.35,409.23 L398.34,409.76 L400.32,410.31 L402.31,410.89 L404.29,411.50 L406.28,412.14 L408.27,412.80 L410.25,413.49 L412.24,414.19 L414.23,414.93 L416.21,415.68 L418.20,416.45 L420.18,417.23 L422.17,418.04 L424.16,418.85 L426.14,419.68 L428.13,420.52 L430.11,421.37 L432.10,422.23 L434.09,423.09 L436.07,423.96 L438.06,424.83 L440.04,425.70" fill="none" stroke="#235a8c" stroke-width="1.2"/>
<path d="M217.60,406.40 L219.59,406.38 L221.57,406.35 L223.56,406.33 L225.54,406.31 L227.53,406.29 L229.52,406.27 L231.50,406.26 L233.49,406.25 L235.47,406.25 L237.46,406.25 L239.45,406.26 L241.43,406.27 L243.42,406.29 L245.41,406.32 L247.39,406.35 L249.38,406.40 L251.36,406.45 L253.35,406.52 L255.34,406.58 L257.32,406.66 L259.31,406.74 L261.29,406.82 L263.28,406.90 L265.27,406.98 L267.25,407.07 L269.24,407.15 L271.23,407.22 L273.21,407.29 L275.20,407.36 L277.18,407.41 L279.17,407.46 L281.16,407.50 L283.14,407.53 L285.13,407.54 L287.11,407.55 L289.10,407.55 L291.09,407.54 L293.07,407.53 L295.06,407.51 L297.04,407.49 L299.03,407.46 L301.02,407.44 L303.00,407.41 L304.99,407.38 L306.98,407.36 L308.96,407.33 L310.95,407.31 L312.93,407.30 L314.92,407.29 L316.91,407.29 L318.89,407.29 L320.88,407.29 L322.86,407.30 L324.85,407.31 L326.84,407.32 L328.82,407.33 L330.81,407.34 L332.79,407.34 L334.78,407.35 L336.77,407.35 L338.75,407.34 L340.74,407.34 L342.73,407.32 L344.71,407.30 L346.70,407.27 L348.68,407.24 L350.67,407.21 L352.66,407.18 L354.64,407.16 L356.63,407.15 L358.61,407.15 L360.60,407.18 L362.59,407.22 L364.57,407.29 L366.56,407.40 L368.54,407.54 L370.53,407.71 L372.52,407.93 L374.50,408.19 L376.49,408.50 L378.48,408.86 L380.46,409.25 L382.45,409.66 L384.43,410.06 L386.42,410.43 L388.41,410.76 L390.39,411.01 L392.38,411.18 L394.36,411.25 L396.35,411.18 L398.34,410.97 L400.32,410.59 L402.31,410.02 L404.29,409.25 L406.28,408.25 L408.27,407.00 L410.25,405.49 L412.24,403.73 L414.23,401.73 L416.21,399.52 L418.20,397.11 L420.18,394.51 L422.17,391.75 L424.16,388.83 L426.14,385.78 L428.13,382.62 L430.11,379.35 L432.10,376.00 L434.09,372.58 L436.07,369.12 L438.06,365.62 L440.04,362.10" fill="none" stroke="#ff9c12" stroke-width="1.2"/>
<path d="M217.60,406.40 L219.59,406.31 L221.57,406.22 L223.56,406.14 L225.54,406.06 L227.53,405.99 L229.52,405.94 L231.50,405.89 L233.49,405.87 L235.47,405.86 L237.46,405.87 L239.45,405.90 L241.43,405.96 L243.42,406.05 L245.41,406.17 L247.39,406.32 L249.38,406.50 L251.36,406.72 L253.35,406.97 L255.34,407.25 L257.32,407.56 L259.31,407.90 L261.29,408.26 L263.28,408.63 L265.27,409.03 L267.25,409.43 L269.24,409.85 L271.23,410.27 L273.21,410.70 L275.20,411.13 L277.18,411.56 L279.17,411.98 L281.16,412.40 L283.14,412.81 L285.13,413.20 L287.11,413.59 L289.10,413.97 L291.09,414.34 L293.07,414.69 L295.06,415.04 L297.04,415.38 L299.03,415.70 L301.02,416.02 L303.00,416.33 L304.99,416.62 L306.98,416.91 L308.96,417.18 L310.95,417.45 L312.93,417.70 L314.92,417.94 L316.91,418.18 L318.89,418.41 L320.88,418.63 L322.86,418.84 L324.85,419.06 L326.84,419.27 L328.82,419.48 L330.81,419.69 L332.79,419.90 L334.78,420.12 L336.77,420.34 L338.75,420.57 L340.74,420.80 L342.73,421.05 L344.71,421.30 L346.70,421.57 L348.68,421.84 L350.67,422.13 L352.66,422.44 L354.64,422.75 L356.63,423.08 L358.61,423.41 L360.60,423.76 L362.59,424.13 L364.57,424.50 L366.56,424.89 L368.54,425.28 L370.53,425.69 L372.52,426.12 L374.50,426.55 L376.49,427.00 L378.48,427.46 L380.46,427.91 L382.45,428.36 L384.43,428.77 L386.42,429.14 L388.41,429.46 L390.39,429.71 L392.38,429.88 L394.36,429.95 L396.35,429.92 L398.34,429.77 L400.32,429.48 L402.31,429.04 L404.29,428.44 L406.28,427.66 L408.27,426.70 L410.25,425.54 L412.24,424.19 L414.23,422.66 L416.21,420.97 L418.20,419.13 L420.18,417.15 L422.17,415.05 L424.16,412.83 L426.14,410.51 L428.13,408.10 L430.11,405.61 L432.10,403.07 L434.09,400.47 L436.07,397.83 L438.06,395.17 L440.04,392.50" fill="none" stroke="#4ea8ff" stroke-width="1.05" stroke-dasharray="3,2"/>
<path d="M217.60,406.40 L219.59,406.36 L221.57,406.33 L223.56,406.30 L225.54,406.27 L227.53,406.24 L229.52,406.22 L231.50,406.20 L233.49,406.19 L235.47,406.18 L237.46,406.19 L239.45,406.20 L241.43,406.21 L243.42,406.24 L245.41,406.28 L247.39,406.34 L249.38,406.40 L251.36,406.48 L253.35,406.57 L255.34,406.66 L257.32,406.77 L259.31,406.88 L261.29,407.00 L263.28,407.12 L265.27,407.25 L267.25,407.37 L269.24,407.49 L271.23,407.61 L273.21,407.73 L275.20,407.83 L277.18,407.93 L279.17,408.02 L281.16,408.10 L283.14,408.17 L285.13,408.22 L287.11,408.26 L289.10,408.29 L291.09,408.31 L293.07,408.32 L295.06,408.33 L297.04,408.32 L299.03,408.31 L301.02,408.29 L303.00,408.27 L304.99,408.24 L306.98,408.21 L308.96,408.18 L310.95,408.14 L312.93,408.10 L314.92,408.06 L316.91,408.02 L318.89,407.98 L320.88,407.95 L322.86,407.91 L324.85,407.88 L326.84,407.86 L328.82,407.85 L330.81,407.84 L332.79,407.84 L334.78,407.85 L336.77,407.87 L338.75,407.91 L340.74,407.96 L342.73,408.02 L344.71,408.10 L346.70,408.19 L348.68,408.30 L350.67,408.42 L352.66,408.55 L354.64,408.69 L356.63,408.83 L358.61,408.97 L360.60,409.11 L362.59,409.25 L364.57,409.38 L366.56,409.50 L368.54,409.62 L370.53,409.71 L372.52,409.80 L374.50,409.86 L376.49,409.90 L378.48,409.92 L380.46,409.91 L382.45,409.89 L384.43,409.85 L386.42,409.79 L388.41,409.71 L390.39,409.62 L392.38,409.52 L394.36,409.41 L396.35,409.29 L398.34,409.17 L400.32,409.04 L402.31,408.90 L404.29,408.77 L406.28,408.63 L408.27,408.50 L410.25,408.37 L412.24,408.24 L414.23,408.12 L416.21,408.00 L418.20,407.88 L420.18,407.77 L422.17,407.65 L424.16,407.54 L426.14,407.43 L428.13,407.33 L430.11,407.22 L432.10,407.11 L434.09,407.01 L436.07,406.91 L438.06,406.80 L440.04,406.70" fill="none" stroke="#d51616" stroke-width="1.05" stroke-dasharray="3,2"/>
<circle cx="217.60" cy="405.50" r="1.8" fill="#235a8c"/>
<circle cx="249.38" cy="405.50" r="1.8" fill="#235a8c"/>
<circle cx="281.16" cy="405.50" r="1.8" fill="#235a8c"/>
<circle cx="312.93" cy="405.50" r="1.8" fill="#235a8c"/>
<circle cx="344.71" cy="405.50" r="1.8" fill="#235a8c"/>
<circle cx="376.49" cy="405.70" r="1.8" fill="#235a8c"/>
<circle cx="408.27" cy="412.80" r="1.8" fill="#235a8c"/>
<circle cx="440.04" cy="425.70" r="1.8" fill="#235a8c"/>
<rect x="215.90" y="404.70" width="3.4" height="3.4" fill="#ff9c12"/>
<rect x="247.68" y="404.70" width="3.4" height="3.4" fill="#ff9c12"/>
<rect x="279.46" y="405.80" width="3.4" height="3.4" fill="#ff9c12"/>
<rect x="311.23" y="405.60" width="3.4" height="3.4" fill="#ff9c12"/>
<rect x="343.01" y="405.60" width="3.4" height="3.4" fill="#ff9c12"/>
<rect x="374.79" y="406.80" width="3.4" height="3.4" fill="#ff9c12"/>
<rect x="406.57" y="405.30" width="3.4" height="3.4" fill="#ff9c12"/>
<rect x="438.34" y="360.40" width="3.4" height="3.4" fill="#ff9c12"/>
<circle cx="217.60" cy="406.40" r="1.85" fill="#fff" stroke="#4ea8ff" stroke-opacity="0.4" stroke-width="0.7"/><path d="M215.75,406.70 A1.85,1.85 0 1 1 219.45,406.70 Z" fill="#4ea8ff"/>
<circle cx="249.38" cy="406.50" r="1.85" fill="#fff" stroke="#4ea8ff" stroke-opacity="0.4" stroke-width="0.7"/><path d="M247.53,406.80 A1.85,1.85 0 1 1 251.23,406.80 Z" fill="#4ea8ff"/>
<circle cx="281.16" cy="412.40" r="1.85" fill="#fff" stroke="#4ea8ff" stroke-opacity="0.4" stroke-width="0.7"/><path d="M279.31,412.70 A1.85,1.85 0 1 1 283.01,412.70 Z" fill="#4ea8ff"/>
<circle cx="312.93" cy="417.70" r="1.85" fill="#fff" stroke="#4ea8ff" stroke-opacity="0.4" stroke-width="0.7"/><path d="M311.08,418.00 A1.85,1.85 0 1 1 314.78,418.00 Z" fill="#4ea8ff"/>
<circle cx="344.71" cy="421.30" r="1.85" fill="#fff" stroke="#4ea8ff" stroke-opacity="0.4" stroke-width="0.7"/><path d="M342.86,421.60 A1.85,1.85 0 1 1 346.56,421.60 Z" fill="#4ea8ff"/>
<circle cx="376.49" cy="427.00" r="1.85" fill="#fff" stroke="#4ea8ff" stroke-opacity="0.4" stroke-width="0.7"/><path d="M374.64,427.30 A1.85,1.85 0 1 1 378.34,427.30 Z" fill="#4ea8ff"/>
<circle cx="408.27" cy="426.70" r="1.85" fill="#fff" stroke="#4ea8ff" stroke-opacity="0.4" stroke-width="0.7"/><path d="M406.42,427.00 A1.85,1.85 0 1 1 410.12,427.00 Z" fill="#4ea8ff"/>
<circle cx="440.04" cy="392.50" r="1.85" fill="#fff" stroke="#4ea8ff" stroke-opacity="0.4" stroke-width="0.7"/><path d="M438.19,392.80 A1.85,1.85 0 1 1 441.89,392.80 Z" fill="#4ea8ff"/>
<rect x="215.90" y="404.90" width="3.4" height="3.2" fill="#fff" stroke="#d51616" stroke-opacity="0.3" stroke-width="0.6"/><rect x="215.80" y="404.80" width="3.6" height="1.8" fill="#d51616"/>
<rect x="247.68" y="404.90" width="3.4" height="3.2" fill="#fff" stroke="#d51616" stroke-opacity="0.3" stroke-width="0.6"/><rect x="247.58" y="404.80" width="3.6" height="1.8" fill="#d51616"/>
<rect x="279.46" y="406.60" width="3.4" height="3.2" fill="#fff" stroke="#d51616" stroke-opacity="0.3" stroke-width="0.6"/><rect x="279.36" y="406.50" width="3.6" height="1.8" fill="#d51616"/>
<rect x="311.23" y="406.60" width="3.4" height="3.2" fill="#fff" stroke="#d51616" stroke-opacity="0.3" stroke-width="0.6"/><rect x="311.13" y="406.50" width="3.6" height="1.8" fill="#d51616"/>
<rect x="343.01" y="406.60" width="3.4" height="3.2" fill="#fff" stroke="#d51616" stroke-opacity="0.3" stroke-width="0.6"/><rect x="342.91" y="406.50" width="3.6" height="1.8" fill="#d51616"/>
<rect x="374.79" y="408.40" width="3.4" height="3.2" fill="#fff" stroke="#d51616" stroke-opacity="0.3" stroke-width="0.6"/><rect x="374.69" y="408.30" width="3.6" height="1.8" fill="#d51616"/>
<rect x="406.57" y="407.00" width="3.4" height="3.2" fill="#fff" stroke="#d51616" stroke-opacity="0.3" stroke-width="0.6"/><rect x="406.47" y="406.90" width="3.6" height="1.8" fill="#d51616"/>
<rect x="438.34" y="405.20" width="3.4" height="3.2" fill="#fff" stroke="#d51616" stroke-opacity="0.3" stroke-width="0.6"/><rect x="438.24" y="405.10" width="3.6" height="1.8" fill="#d51616"/>
<path d="M217.6,294.7 L503.6,294.7 L503.6,512.2 L217.6,512.2 Z" fill="none" stroke="#3a3a3a" stroke-width="1.3"/>
<text x="217.60" y="524.7" text-anchor="middle" font-size="10" fill="#4a4a4a">1</text>
<text x="249.38" y="524.7" text-anchor="middle" font-size="10" fill="#4a4a4a">2</text>
<text x="281.16" y="524.7" text-anchor="middle" font-size="10" fill="#4a4a4a">3</text>
<text x="312.93" y="524.7" text-anchor="middle" font-size="10" fill="#4a4a4a">4</text>
<text x="344.71" y="524.7" text-anchor="middle" font-size="10" fill="#4a4a4a">5</text>
<text x="376.49" y="524.7" text-anchor="middle" font-size="10" fill="#4a4a4a">6</text>
<text x="408.27" y="524.7" text-anchor="middle" font-size="10" fill="#4a4a4a">7</text>
<text x="440.04" y="524.7" text-anchor="middle" font-size="10" fill="#4a4a4a">8</text>
<text x="471.82" y="524.7" text-anchor="middle" font-size="10" fill="#4a4a4a">9</text>
<text x="503.60" y="524.7" text-anchor="middle" font-size="10" fill="#4a4a4a">10</text>
<text x="212.6" y="500.60" text-anchor="end" font-size="10" fill="#4a4a4a">−0. 03</text>
<text x="212.6" y="469.55" text-anchor="end" font-size="10" fill="#4a4a4a">−0. 02</text>
<text x="212.6" y="438.50" text-anchor="end" font-size="10" fill="#4a4a4a">−0. 01</text>
<text x="212.6" y="407.45" text-anchor="end" font-size="10" fill="#4a4a4a">0. 00</text>
<text x="212.6" y="376.40" text-anchor="end" font-size="10" fill="#4a4a4a">0. 01</text>
<text x="212.6" y="345.35" text-anchor="end" font-size="10" fill="#4a4a4a">0. 02</text>
<text x="212.6" y="314.30" text-anchor="end" font-size="10" fill="#4a4a4a">0. 03</text>
<text transform="translate(185.4,396.1) rotate(-90) scale(0.935,1)" text-anchor="middle" font-size="11.8" fill="#111">Displacement/mm</text>
<line x1="454" y1="301.7" x2="476.6" y2="301.7" stroke="#235a8c" stroke-width="1.2"/>
<circle cx="465.30" cy="301.70" r="1.8" fill="#235a8c"/>
<text transform="translate(482,305.70) scale(0.88,1)" font-size="9.9" fill="#222">T1</text>
<line x1="454" y1="312.9" x2="476.6" y2="312.9" stroke="#ff9c12" stroke-width="1.2"/>
<rect x="463.60" y="311.20" width="3.4" height="3.4" fill="#ff9c12"/>
<text transform="translate(482,316.90) scale(0.88,1)" font-size="9.9" fill="#222">N1</text>
<line x1="454" y1="324.5" x2="476.6" y2="324.5" stroke="#4ea8ff" stroke-width="1.2" stroke-dasharray="3,2"/>
<circle cx="465.30" cy="324.50" r="1.85" fill="#fff" stroke="#4ea8ff" stroke-opacity="0.4" stroke-width="0.7"/><path d="M463.45,324.80 A1.85,1.85 0 1 1 467.15,324.80 Z" fill="#4ea8ff"/>
<text transform="translate(482,328.50) scale(0.88,1)" font-size="9.9" fill="#222">T1<tspan dx="1.6">′</tspan></text>
<line x1="454" y1="335.2" x2="476.6" y2="335.2" stroke="#d51616" stroke-width="1.2" stroke-dasharray="3,2"/>
<rect x="463.60" y="333.70" width="3.4" height="3.2" fill="#fff" stroke="#d51616" stroke-opacity="0.3" stroke-width="0.6"/><rect x="463.50" y="333.60" width="3.6" height="1.8" fill="#d51616"/>
<text transform="translate(482,339.20) scale(0.88,1)" font-size="9.9" fill="#222">N1<tspan dx="1.6">′</tspan></text>
<text x="324.2" y="537.8" font-size="11.95" fill="#111">Image number</text>
<text x="238.4" y="551.2" font-size="12" fill="#111">Displacement Image of Analysis Point 1-1′(α=60°)</text>
<text x="339" y="576" font-size="14.5" fill="#111">(c)</text>
</svg></body></html>
